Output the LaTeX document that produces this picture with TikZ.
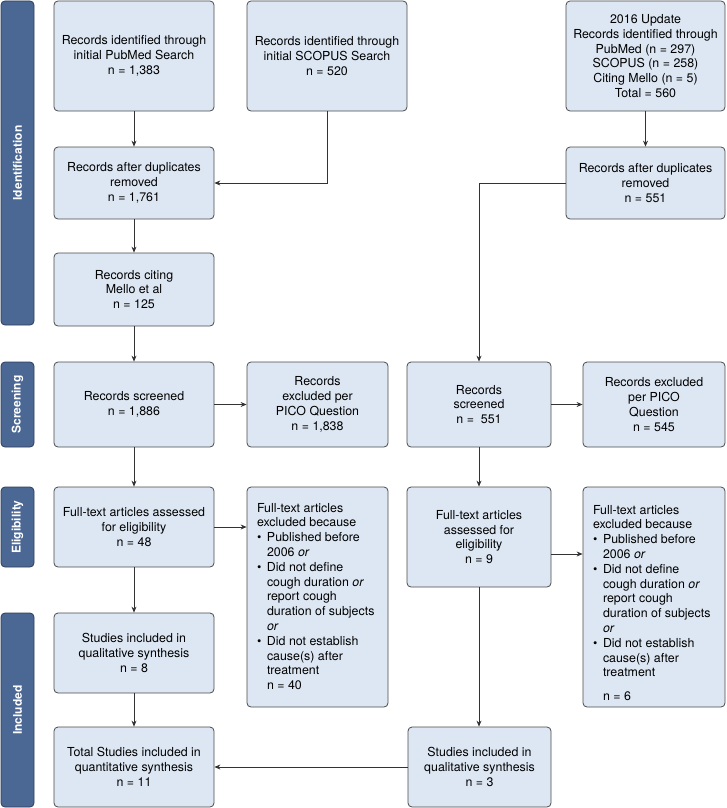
\documentclass[tikz,border=0pt]{standalone}
\usepackage{fontspec}
\setmainfont{TeX Gyre Heros}
\usetikzlibrary{arrows.meta}
\definecolor{boxfill}{HTML}{DDE7F3}
\definecolor{boxline}{HTML}{4A4A4A}
\definecolor{barfill}{HTML}{4B6895}
\definecolor{barline}{HTML}{2E3D58}
\definecolor{linecol}{HTML}{333333}
\newcommand{\mybul}{\makebox[10pt][l]{•}}
\newcommand{\myind}{\hspace*{10pt}}
\tikzset{
  box/.style={draw=boxline, line width=0.8pt, fill=boxfill, rounded corners=4pt,
    align=center, inner sep=0pt, font=\fontsize{12.4}{14.8}\selectfont},
  exbox/.style={box, inner xsep=10pt, inner ysep=16pt},
  bar/.style={draw=barline, line width=0.8pt, fill=barfill, rounded corners=4pt,
    rotate=90, minimum height=33pt, text=white, inner sep=0pt,
    font=\bfseries\fontsize{12}{14}\selectfont},
  arr/.style={-{Stealth[length=6pt,width=5pt]}, draw=linecol, line width=0.7pt}
}
\begin{document}
\begin{tikzpicture}[x=1pt,y=1pt]
\useasboundingbox (0,0) rectangle (726,-808);

% side bars
\node[bar, minimum width=324pt] (bident) at (17.5,-163) {Identification};
\node[bar, minimum width=85pt] (bscreen) at (17.5,-404.5) {Screening};
\node[bar, minimum width=80pt] (belig) at (17.5,-527) {Eligibility};
\node[bar, minimum width=194pt] (bincl) at (17.5,-710) {Included};

% left column
\node[box, minimum width=160pt, minimum height=110pt] (pub) at (134,-56)
  {Records identified through\\initial PubMed Search\\n = 1,383};
\node[box, minimum width=160pt, minimum height=110pt] (scop) at (327,-56)
  {Records identified through\\initial SCOPUS Search\\n = 520};
\node[box, minimum width=160pt, minimum height=72pt] (dupL) at (134,-183)
  {Records after duplicates\\removed\\n = 1,761};
\node[box, minimum width=160pt, minimum height=73pt] (cite) at (134,-289.5)
  {Records citing\\Mello et al\\n = 125};
\node[box, minimum width=160pt, minimum height=85pt] (scrL) at (134,-404.5)
  {Records screened\\n = 1,886};
\node[box, minimum width=141pt, minimum height=85pt] (exL) at (317.5,-404.5)
  {Records\\excluded per\\PICO Question\\n = 1,838};
\node[box, minimum width=160pt, minimum height=80pt] (ftL) at (134,-527)
  {Full-text articles assessed\\for eligibility\\n = 48};
\node[exbox] (ftexL) at (317.5,-597)
  {\parbox[c][188pt][t]{121pt}{\raggedright
   Full-text articles\\
   excluded because\\
   \mybul Published before\\
   \myind 2006 \textit{or}\\
   \mybul Did not define\\
   \myind cough duration \textit{or}\\
   \myind report cough\\
   \myind duration of subjects\\
   \myind \textit{or}\\
   \mybul Did not establish\\
   \myind cause(s) after\\
   \myind treatment\\
   \myind n = 40}};
\node[box, minimum width=160pt, minimum height=80pt] (qualL) at (134,-653)
  {Studies included in\\qualitative synthesis\\n = 8};
\node[box, minimum width=160pt, minimum height=80pt] (totL) at (134,-767)
  {Total Studies included in\\quantitative synthesis\\n = 11};

% right column
\node[box, minimum width=159pt, minimum height=110pt] (upd) at (645.5,-56)
  {2016 Update\\Records identified through\\PubMed (n = 297)\\SCOPUS (n = 258)\\Citing Mello (n = 5)\\Total = 560};
\node[box, minimum width=159pt, minimum height=72pt] (dupR) at (645.5,-183)
  {Records after duplicates\\removed\\n = 551};
\node[box, minimum width=144pt, minimum height=85pt] (scrR) at (479,-404.5)
  {Records\\screened\\n =\ \ 551};
\node[box, minimum width=142pt, minimum height=85pt] (exR) at (654,-404.5)
  {Records excluded\\per PICO\\Question\\n = 545};
\node[box, minimum width=144pt, minimum height=100pt] (ftR) at (479,-537)
  {Full-text articles\\assessed for\\eligibility\\n = 9};
\node[exbox] (ftexR) at (654,-597)
  {\parbox[c][188pt][t]{122pt}{\raggedright\vspace*{2pt}%
   Full-text articles\\
   excluded because\\
   \mybul Published before\\
   \myind 2006 \textit{or}\\
   \mybul Did not define\\
   \myind cough duration \textit{or}\\
   \myind report cough\\
   \myind duration of subjects\\
   \myind \textit{or}\\
   \mybul Did not establish\\
   \myind cause(s) after\\
   \myind treatment\\[9.2pt]
   \myind n = 6}};
\node[box, minimum width=143pt, minimum height=80pt] (qualR) at (479.5,-767)
  {Studies included in\\qualitative synthesis\\n = 3};

% connectors
\draw[arr] (pub.south) -- (dupL.north);
\draw[arr] (scop.south) |- (dupL.east);
\draw[arr] (dupL.south) -- (cite.north);
\draw[arr] (cite.south) -- (scrL.north);
\draw[arr] (scrL.east) -- (exL.west);
\draw[arr] (scrL.south) -- (ftL.north);
\draw[arr] (ftL.east) -- (ftexL.west |- ftL.east);
\draw[arr] (ftL.south) -- (qualL.north);
\draw[arr] (qualL.south) -- (totL.north);
\draw[arr] (upd.south) -- (dupR.north);
\draw[arr] (dupR.west) -| (scrR.north);
\draw[arr] (scrR.east) -- (exR.west);
\draw[arr] (scrR.south) -- (ftR.north);
\draw[arr] ([yshift=-17pt]ftR.east) -- ([yshift=-17pt]ftR.east -| ftexR.west);
\draw[arr] (ftR.south) -- (ftR.south |- qualR.north);
\draw[arr] (qualR.west) -- (totL.east);
\end{tikzpicture}
\end{document}
